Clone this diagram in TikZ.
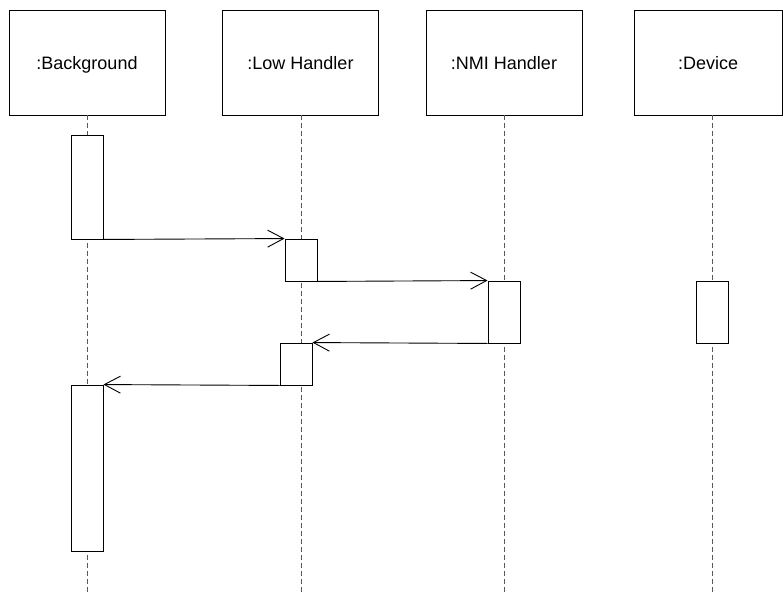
\documentclass[tikz,border=0pt]{standalone}
\usepackage{fontspec}
\setmainfont{Liberation Sans}
\usetikzlibrary{positioning, arrows.meta, backgrounds}

\begin{document}
\begin{tikzpicture}[x=1pt, y=-1pt,
  obj/.style={draw, line width=0.9pt, minimum width=156pt, minimum height=105pt,
              inner sep=0pt, text height=13pt, text depth=0pt,
              font=\fontsize{18}{20}\selectfont},
  act/.style={draw, fill=white, line width=0.9pt, minimum width=32pt, inner sep=0pt},
  life/.style={dashed, dash pattern=on 5pt off 3pt, line width=0.9pt, color=black!65},
  msg/.style={-{Straight Barb[length=16pt, width=17pt]}, line width=0.9pt},
]
\useasboundingbox (0,0) rectangle (783,594);

% === Objects ===
\node[obj] (bg)  at (87,62.5)  {:Background};
\node[obj] (low) at (300.5,62.5) {:Low Handler};
\node[obj] (nmi) at (504,62.5) {:NMI Handler};
\node[obj, minimum width=148pt] (dev) at (708,62.5) {:Device};

% === Lifelines ===
\coordinate (bgEnd)  at (87,592);
\coordinate (lowEnd) at (301,592);
\coordinate (nmiEnd) at (504,592);
\coordinate (devEnd) at (712,592);
\draw[life] (bg.south) -- (bgEnd);
\draw[life] (low.south -| lowEnd) -- (lowEnd);
\draw[life] (nmi.south) -- (nmiEnd);
\draw[life] (dev.south -| devEnd) -- (devEnd);

% === Activations ===
\node[act, minimum height=104pt] (bgA)  at (87,187)  {};
\node[act, minimum height=42pt]  (lowA) at (301,260) {};
\node[act, minimum height=62pt]  (nmiA) at (504,312) {};
\node[act, minimum height=62pt]  (devA) at (712,312) {};
\node[act, minimum height=42pt]  (lowB) at (296,364) {};
\node[act, minimum height=166pt] (bgB)  at (87,468)  {};

% === Messages ===
\draw[msg] (bgA.south east) -- (lowA.north west);
\draw[msg] (lowA.south east) -- (nmiA.north west);
\draw[msg] (nmiA.south west) -- (lowB.north east);
\draw[msg] (lowB.south west) -- (bgB.north east);

\end{tikzpicture}
\end{document}
